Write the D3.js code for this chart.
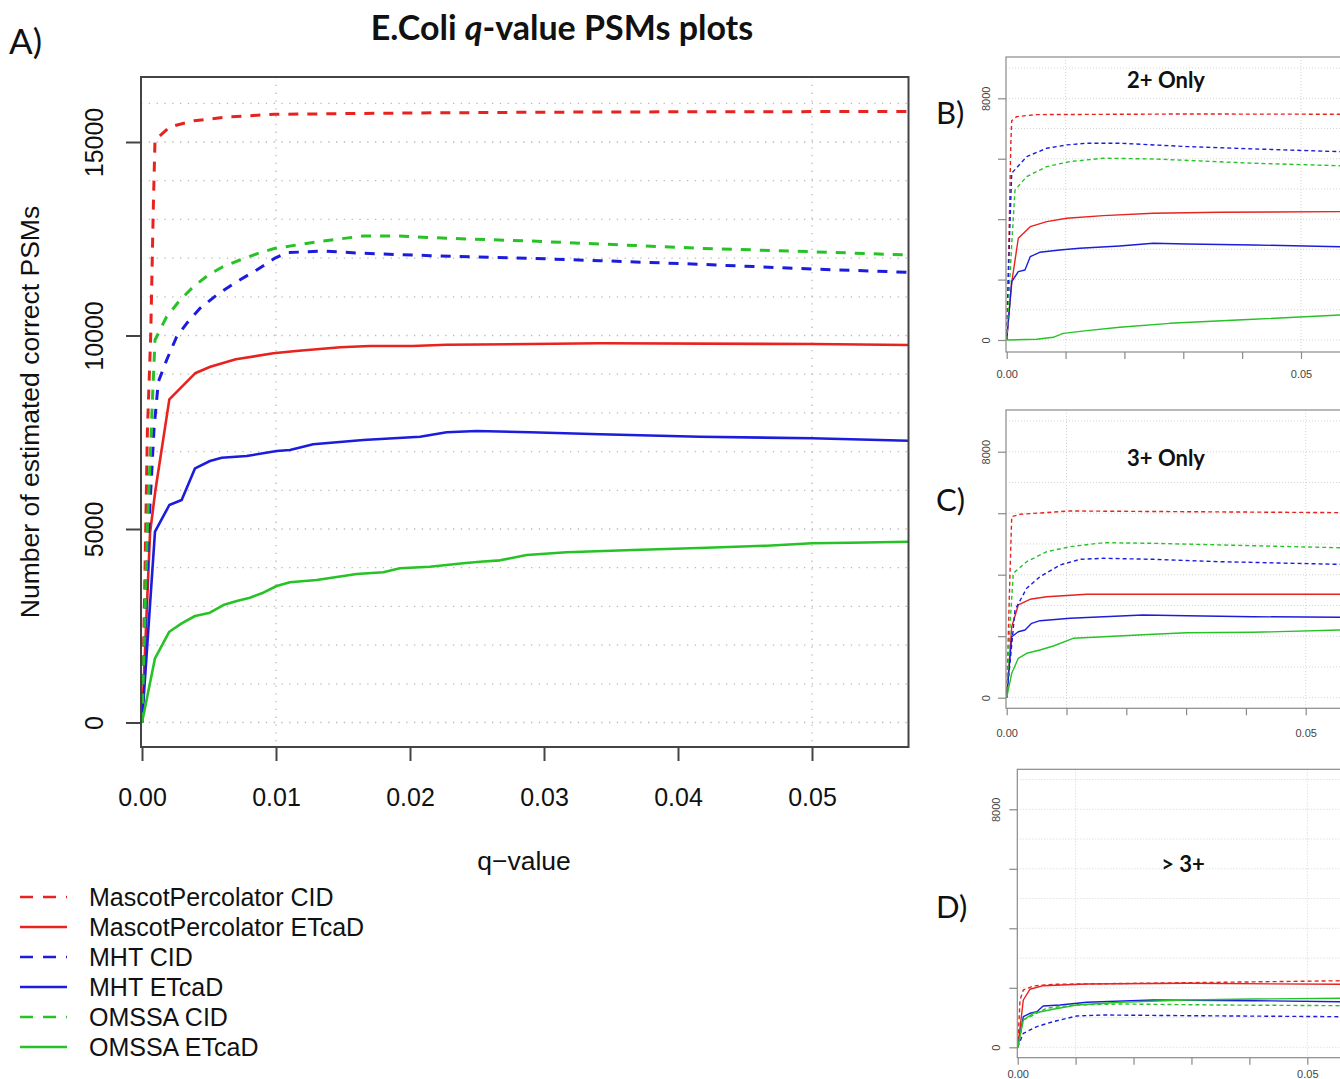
<!DOCTYPE html>
<html>
<head>
<meta charset="utf-8">
<script src="https://cdn.jsdelivr.net/npm/d3@7"></script>
<style>
  html, body { margin: 0; padding: 0; background: #fff; }
  svg { display: block; }
</style>
</head>
<body>
<svg id="chart" width="1340" height="1079"></svg>
<script>
// ---------------- DATA ----------------
const seriesNames = ["MascotPercolator CID", "MascotPercolator ETcaD", "MHT CID", "MHT ETcaD", "OMSSA CID", "OMSSA ETcaD"];
const seriesColors = ["#e8221e", "#e8221e", "#1c1cdc", "#1c1cdc", "#26c226", "#26c226"];
const seriesDashed = [true, false, true, false, true, false];

const mainXTicks = [0, 0.01, 0.02, 0.03, 0.04, 0.05];
const mainYTicks = [0, 5000, 10000, 15000];
const panelXTicks = [0, 0.01, 0.02, 0.03, 0.04, 0.05];
const panelXLabels = [0, 0.05];
const panelYTicks = [0, 2000, 4000, 6000, 8000];
const panelYLabels = [0, 8000];

// Panel A: all charges  [q-value, PSMs]
const mainMascotCID = [[0,0],[0.0002,3400],[0.0004,7500],[0.00065,10000],[0.00085,13400],[0.00097,15050],[0.0021,15395],[0.0039,15550],[0.0065,15650],[0.0099,15716],[0.02,15750],[0.03,15770],[0.04,15780],[0.05,15785],[0.0572,15790]];
const mainMascotETD = [[0,0],[0.0006,4900],[0.001,6000],[0.00204,8350],[0.00396,9023],[0.0051,9194],[0.007,9385],[0.0098,9540],[0.0115,9599],[0.0148,9695],[0.017,9729],[0.0202,9729],[0.0227,9762],[0.029,9780],[0.0342,9798],[0.05,9780],[0.0572,9755]];
const mainMHTCID = [[0,0],[0.0005,5000],[0.0009,7600],[0.00122,8806],[0.00184,9367],[0.00259,9969],[0.00334,10315],[0.00433,10703],[0.00557,11047],[0.00707,11390],[0.00856,11693],[0.00993,12000],[0.0108,12140],[0.0135,12183],[0.0165,12124],[0.0215,12063],[0.029,11994],[0.0342,11933],[0.0416,11840],[0.05,11718],[0.0572,11633]];
const mainMHTETD = [[0,0],[0.00097,4930],[0.00204,5620],[0.00296,5749],[0.00396,6568],[0.00507,6757],[0.00595,6842],[0.00781,6886],[0.01005,7015],[0.01104,7041],[0.01278,7188],[0.01651,7300],[0.02075,7385],[0.02274,7499],[0.02498,7532],[0.02896,7499],[0.03418,7447],[0.04164,7385],[0.05,7344],[0.0572,7282]];
const mainOMSSACID = [[0,0],[0.0004,5000],[0.0008,8500],[0.00097,9884],[0.00184,10486],[0.00284,10917],[0.00383,11261],[0.00495,11563],[0.00604,11778],[0.00731,11951],[0.00881,12140],[0.00993,12253],[0.01154,12339],[0.01353,12442],[0.01651,12571],[0.019,12571],[0.02274,12512],[0.02896,12442],[0.03418,12364],[0.04164,12253],[0.05,12165],[0.0572,12080]];
const mainOMSSAETD = [[0,0],[0.00097,1659],[0.00204,2346],[0.00296,2563],[0.00396,2752],[0.00507,2837],[0.00607,3036],[0.00707,3140],[0.00806,3225],[0.00905,3354],[0.01005,3527],[0.01104,3623],[0.01304,3682],[0.01602,3837],[0.01801,3881],[0.01925,3984],[0.02149,4026],[0.02398,4113],[0.02522,4155],[0.02672,4190],[0.02871,4328],[0.03169,4398],[0.03666,4457],[0.04214,4517],[0.04662,4569],[0.05,4630],[0.05284,4646],[0.0572,4672]];

// Panel B: 2+ only
const bMascotCID = [[0,0],[0.0004,3500],[0.0007,6500],[0.00085,7258],[0.0017,7394],[0.005,7460],[0.03,7480],[0.0572,7473]];
const bMascotETD = [[0,0],[0.00085,1900],[0.00197,3368],[0.004,3752],[0.0068,3918],[0.0102,4029],[0.0164,4117],[0.0249,4194],[0.0362,4228],[0.0572,4250]];
const bMHTCID = [[0,0],[0.0005,3500],[0.00085,5520],[0.0034,6070],[0.0068,6348],[0.0102,6457],[0.0136,6513],[0.0192,6513],[0.0306,6402],[0.0419,6325],[0.0572,6230]];
const bMHTETD = [[0,0],[0.00085,1930],[0.00197,2262],[0.0031,2318],[0.004,2759],[0.0056,2903],[0.009,2980],[0.0124,3036],[0.0192,3113],[0.0249,3201],[0.0306,3179],[0.0419,3146],[0.0572,3085]];
const bOMSSACID = [[0,0],[0.0008,3000],[0.00141,4967],[0.0034,5408],[0.0068,5739],[0.0107,5904],[0.0164,6016],[0.0249,5993],[0.0419,5851],[0.0572,5765]];
const bOMSSAETD = [[0,0],[0.0051,23],[0.0079,89],[0.0096,221],[0.0136,309],[0.0192,420],[0.0277,552],[0.0419,685],[0.0572,835]];

// Panel C: 3+ only
const cMascotCID = [[0,0],[0.0004,3000],[0.0007,5000],[0.00084,5886],[0.0022,5964],[0.0106,6072],[0.03,6049],[0.0572,6016]];
const cMascotETD = [[0,0],[0.00084,2309],[0.00194,3015],[0.0039,3200],[0.0067,3285],[0.0134,3363],[0.0572,3363]];
const cMHTCID = [[0,0],[0.00139,2852],[0.00334,3558],[0.00557,3935],[0.0089,4315],[0.0123,4501],[0.0162,4533],[0.0245,4501],[0.0357,4423],[0.0572,4330]];
const cMHTETD = [[0,0],[0.00084,1984],[0.00194,2146],[0.00306,2202],[0.00418,2419],[0.00557,2504],[0.0106,2582],[0.0162,2634],[0.0228,2689],[0.0301,2667],[0.0412,2634],[0.0572,2612]];
const cOMSSACID = [[0,0],[0.0006,2500],[0.0011,4046],[0.00334,4423],[0.0067,4748],[0.0106,4911],[0.0162,5041],[0.0245,5021],[0.0412,4943],[0.0572,4870]];
const cOMSSAETD = [[0,0],[0.00084,793],[0.00194,1281],[0.00334,1444],[0.00557,1551],[0.0078,1681],[0.0111,1932],[0.0162,1984],[0.0245,2062],[0.0301,2114],[0.0412,2127],[0.0572,2210]];

// Panel D: > 3+
const dMascotCID = [[0,0],[0.0004,1590],[0.00097,1926],[0.0027,2060],[0.0061,2118],[0.0292,2171],[0.0572,2240]];
const dMascotETD = [[0,0],[0.00097,1590],[0.0021,1950],[0.0044,2071],[0.0119,2128],[0.0292,2151],[0.0572,2115]];
const dMHTCID = [[0,0],[0.00097,470],[0.0033,694],[0.0061,862],[0.0102,1052],[0.0148,1086],[0.0292,1063],[0.0572,1027]];
const dMHTETD = [[0,0],[0.00097,1029],[0.0021,1143],[0.0033,1197],[0.0044,1388],[0.0073,1422],[0.0119,1513],[0.0234,1590],[0.0407,1566],[0.0572,1530]];
const dOMSSACID = [[0,0],[0.00097,918],[0.005,1311],[0.0096,1422],[0.0177,1455],[0.035,1422],[0.0572,1397]];
const dOMSSAETD = [[0,0],[0.00097,918],[0.0027,1143],[0.0061,1277],[0.0102,1422],[0.0177,1513],[0.0292,1590],[0.0407,1624],[0.0572,1650]];

const mainSeries = [mainMascotCID, mainMascotETD, mainMHTCID, mainMHTETD, mainOMSSACID, mainOMSSAETD];
const bSeries = [bMascotCID, bMascotETD, bMHTCID, bMHTETD, bOMSSACID, bOMSSAETD];
const cSeries = [cMascotCID, cMascotETD, cMHTCID, cMHTETD, cOMSSACID, cOMSSAETD];
const dSeries = [dMascotCID, dMascotETD, dMHTCID, dMHTETD, dOMSSACID, dOMSSAETD];

// ---------------- DRAWING ----------------
const svg = d3.select("#chart");
const SANS = "'Liberation Sans', Arial, Helvetica, sans-serif";
const CAL = "Lato, 'Open Sans', sans-serif";
const Q_MAX = 0.0572;

// ---- Main panel A ----
const A = { left: 141, right: 908.5, top: 77, bottom: 747 };
const x = d3.scaleLinear().domain([0, 0.05]).range([142, 812]);
const y = d3.scaleLinear().domain([0, 15000]).range([722.5, 142]);

svg.append("defs").append("clipPath").attr("id", "clipA")
  .append("rect").attr("x", A.left).attr("y", A.top)
  .attr("width", A.right - A.left).attr("height", A.bottom - A.top);

// grid
const gGrid = svg.append("g");
gGrid.selectAll("line.h").data(d3.range(0, 16001, 1000)).join("line")
  .attr("x1", A.left).attr("x2", A.right)
  .attr("y1", d => y(d)).attr("y2", d => y(d))
  .attr("stroke", "#b8b8b8").attr("stroke-width", 1.3).attr("stroke-dasharray", "1.3 6.5");
gGrid.selectAll("line.v").data([0.01, 0.05]).join("line")
  .attr("x1", d => x(d)).attr("x2", d => x(d))
  .attr("y1", A.top).attr("y2", A.bottom)
  .attr("stroke", "#b8b8b8").attr("stroke-width", 1.3).attr("stroke-dasharray", "1.3 6.5");

// lines
const lineA = d3.line().x(d => x(d[0])).y(d => y(d[1]));
const gLines = svg.append("g").attr("clip-path", "url(#clipA)");
mainSeries.forEach((s, i) => {
  gLines.append("path").datum(s).attr("d", lineA)
    .attr("fill", "none").attr("stroke", seriesColors[i])
    .attr("stroke-width", seriesDashed[i] ? 3 : 2.6)
    .attr("stroke-linejoin", "round")
    .attr("stroke-dasharray", seriesDashed[i] ? "10 9" : null);
});

// box
svg.append("rect").attr("x", A.left).attr("y", A.top)
  .attr("width", A.right - A.left).attr("height", A.bottom - A.top)
  .attr("fill", "none").attr("stroke", "#444").attr("stroke-width", 2);

// axes
const yAxis = svg.append("g").attr("transform", `translate(${A.left},0)`)
  .call(d3.axisLeft(y).tickValues(mainYTicks).tickSize(15).tickFormat(d3.format("d")));
yAxis.select(".domain").remove();
yAxis.selectAll(".tick line").attr("stroke", "#444").attr("stroke-width", 2);
yAxis.selectAll(".tick text")
  .attr("x", null).attr("dy", null)
  .attr("text-anchor", "middle")
  .attr("transform", "translate(-38,0) rotate(-90)")
  .attr("font-family", SANS).attr("font-size", 25).attr("fill", "#111");

const xAxis = svg.append("g").attr("transform", `translate(0,${A.bottom})`)
  .call(d3.axisBottom(x).tickValues(mainXTicks).tickSize(14).tickFormat(d3.format(".2f")));
xAxis.select(".domain").remove();
xAxis.selectAll(".tick line").attr("stroke", "#444").attr("stroke-width", 2);
xAxis.selectAll(".tick text").attr("y", 59).attr("dy", null)
  .attr("font-family", SANS).attr("font-size", 25).attr("fill", "#111");

// axis titles
svg.append("text").attr("x", 524).attr("y", 870).attr("text-anchor", "middle")
  .attr("font-family", SANS).attr("font-size", 26.5).attr("fill", "#111").text("q\u2212value");
svg.append("text").attr("transform", "translate(39,412) rotate(-90)").attr("text-anchor", "middle")
  .attr("font-family", SANS).attr("font-size", 26.5).attr("fill", "#111").text("Number of estimated correct PSMs");

// main title
const title = svg.append("text").attr("x", 562).attr("y", 40).attr("text-anchor", "middle")
  .attr("font-family", CAL).attr("font-weight", "bold").attr("font-size", 34).attr("fill", "#111");
title.append("tspan").text("E.Coli ");
title.append("tspan").attr("font-style", "italic").text("q");
title.append("tspan").text("-value PSMs plots");

svg.append("text").attr("x", 9).attr("y", 54).attr("font-family", CAL).attr("font-size", 35).attr("fill", "#111").text("A)");

// legend
const leg = svg.append("g");
seriesNames.forEach((name, i) => {
  const cy = 897 + i * 30;
  leg.append("line").attr("x1", 20).attr("x2", 67).attr("y1", cy).attr("y2", cy)
    .attr("stroke", seriesColors[i]).attr("stroke-width", 2.6)
    .attr("stroke-dasharray", seriesDashed[i] ? "13 10" : null);
  leg.append("text").attr("x", 89).attr("y", cy + 9)
    .attr("font-family", SANS).attr("font-size", 25).attr("fill", "#111").text(name);
});

// ---- Small panels ----
const panels = [
  { series: bSeries, letter: "B)", title: "2+ Only", box: { left: 1006, top: 57, bottom: 352 }, x0: 1006.7, x05: 1301, y0: 340, y8: 98.3,
    letterPos: [936, 124], titlePos: [1166, 88], yLabX: 990, xLabY: 378, id: "clipB" },
  { series: cSeries, letter: "C)", title: "3+ Only", box: { left: 1006, top: 410, bottom: 708.3 }, x0: 1006.7, x05: 1305.7, y0: 697.7, y8: 451.7,
    letterPos: [936, 511], titlePos: [1166, 466], yLabX: 990, xLabY: 737, id: "clipC" },
  { series: dSeries, letter: "D)", title: "> 3+", box: { left: 1017.3, top: 769.3, bottom: 1057.7 }, x0: 1017.7, x05: 1307.3, y0: 1047.3, y8: 809.3,
    letterPos: [936, 918], titlePos: [1183, 872], yLabX: 1000, xLabY: 1078, id: "clipD" }
];

panels.forEach(p => {
  const px = d3.scaleLinear().domain([0, 0.05]).range([p.x0, p.x05]);
  const py = d3.scaleLinear().domain([0, 8000]).range([p.y0, p.y8]);
  const right = px(Q_MAX);
  const g = svg.append("g");

  svg.select("defs").append("clipPath").attr("id", p.id)
    .append("rect").attr("x", p.box.left).attr("y", p.box.top)
    .attr("width", right - p.box.left).attr("height", p.box.bottom - p.box.top);

  // faint grid
  g.selectAll("line.h").data(d3.range(0, 9001, 1000)).join("line")
    .attr("x1", p.box.left).attr("x2", right)
    .attr("y1", d => py(d)).attr("y2", d => py(d))
    .attr("stroke", "#d4d4d4").attr("stroke-width", 1).attr("stroke-dasharray", "1 2");
  g.selectAll("line.v").data([0.01, 0.05]).join("line")
    .attr("x1", d => px(d)).attr("x2", d => px(d))
    .attr("y1", p.box.top).attr("y2", p.box.bottom)
    .attr("stroke", "#d4d4d4").attr("stroke-width", 1).attr("stroke-dasharray", "1 2");

  const ln = d3.line().x(d => px(d[0])).y(d => py(d[1]));
  const gl = g.append("g").attr("clip-path", `url(#${p.id})`);
  p.series.forEach((s, i) => {
    gl.append("path").datum(s).attr("d", ln).attr("fill", "none")
      .attr("stroke", seriesColors[i]).attr("stroke-width", 1.4)
      .attr("stroke-linejoin", "round")
      .attr("stroke-dasharray", seriesDashed[i] ? "4 3" : null);
  });

  g.append("rect").attr("x", p.box.left).attr("y", p.box.top)
    .attr("width", right - p.box.left).attr("height", p.box.bottom - p.box.top)
    .attr("fill", "none").attr("stroke", "#8a8a8a").attr("stroke-width", 1.2);

  const ya = g.append("g").attr("transform", `translate(${p.box.left},0)`)
    .call(d3.axisLeft(py).tickValues(panelYTicks).tickSize(8)
      .tickFormat(d => panelYLabels.includes(d) ? d3.format("d")(d) : ""));
  ya.select(".domain").remove();
  ya.selectAll(".tick line").attr("stroke", "#8a8a8a").attr("stroke-width", 1.2);
  ya.selectAll(".tick text").attr("x", null).attr("dy", null).attr("text-anchor", "middle")
    .attr("transform", `translate(${p.yLabX - p.box.left},0) rotate(-90)`)
    .attr("font-family", SANS).attr("font-size", 11).attr("fill", "#444");

  const xa = g.append("g").attr("transform", `translate(0,${p.box.bottom})`)
    .call(d3.axisBottom(px).tickValues(panelXTicks).tickSize(7)
      .tickFormat(d => panelXLabels.includes(d) ? d3.format(".2f")(d) : ""));
  xa.select(".domain").remove();
  xa.selectAll(".tick line").attr("stroke", "#8a8a8a").attr("stroke-width", 1.2);
  xa.selectAll(".tick text").attr("y", p.xLabY - p.box.bottom).attr("dy", null)
    .attr("font-family", SANS).attr("font-size", 11).attr("fill", "#444");

  g.append("text").attr("x", p.titlePos[0]).attr("y", p.titlePos[1]).attr("text-anchor", "middle")
    .attr("font-family", CAL).attr("font-weight", "bold").attr("font-size", 22).attr("fill", "#111").text(p.title);
  svg.append("text").attr("x", p.letterPos[0]).attr("y", p.letterPos[1])
    .attr("font-family", CAL).attr("font-size", 31).attr("fill", "#111").text(p.letter);
});
</script>
</body>
</html>
